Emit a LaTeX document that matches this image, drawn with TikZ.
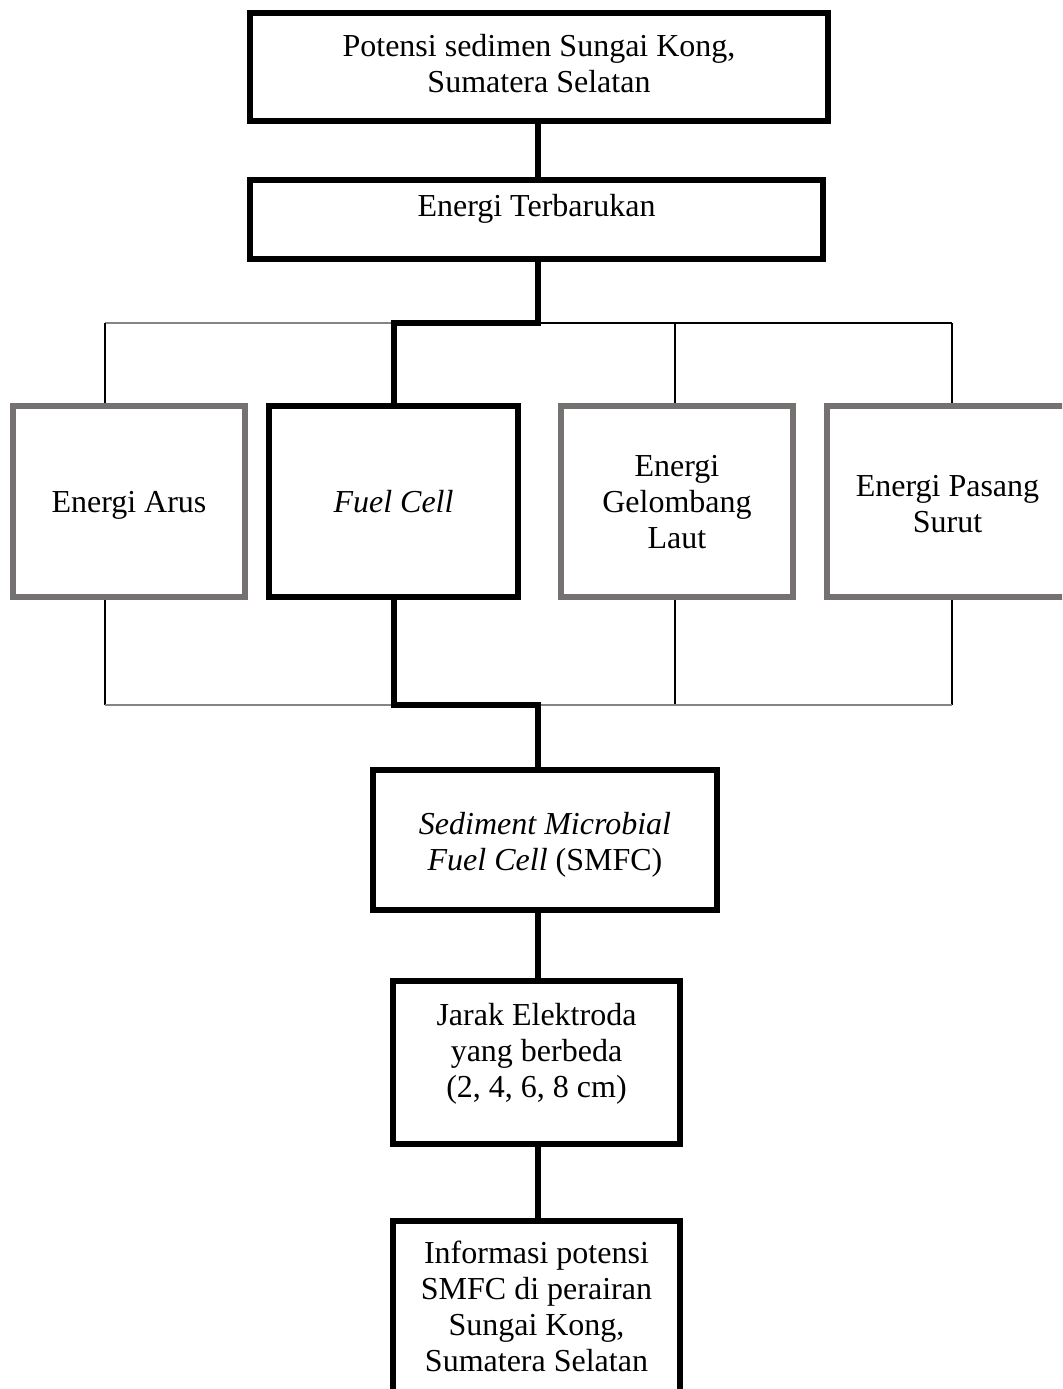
\documentclass[tikz,border=0pt]{standalone}
\usepackage{fontspec}
\setmainfont{Liberation Serif}
\usetikzlibrary{backgrounds}
\definecolor{boxgray}{RGB}{117,113,113}
\definecolor{linegray}{RGB}{135,132,132}
\begin{document}
\begin{tikzpicture}[x=0.5pt,y=-0.5pt,
  every node/.style={font=\fontsize{16}{18}\selectfont, align=center, inner sep=0pt},
  blackbox/.style={draw=black, line width=3pt, fill=white},
  graybox/.style={draw=boxgray, line width=3pt, fill=white},
  thickline/.style={draw=black, line width=3pt},
  thinblk/.style={draw=black, line width=1.1pt},
  thingray/.style={draw=linegray, line width=1.1pt}]
\useasboundingbox (0,0) rectangle (1062,1389);
\clip (0,0) rectangle (1062,1389);

% boxes
\node[blackbox, minimum width=289pt, minimum height=54pt] (top) at (539,67) {};
\node (toptxt) at (539,64) {Potensi sedimen Sungai Kong,\\Sumatera Selatan};
\node[blackbox, minimum width=286.5pt, minimum height=39.5pt] (renew) at (536.5,219.5) {};
\node (renewtxt) at (536.5,209) {Energi Terbarukan};

\node[graybox, minimum width=116pt, minimum height=95.5pt] (arus) at (129,501.5) {};
\node[text depth=0pt] (arustxt) at (129,502) {Energi Arus};
\node[blackbox, minimum width=124.5pt, minimum height=95.5pt] (fuel) at (393.5,501.5) {\textit{Fuel Cell}};
\node[graybox, minimum width=116pt, minimum height=95.5pt] (gelo) at (677,501.5) {};
\node (gelotxt) at (677,502.5) {Energi\\Gelombang\\Laut};
\node[graybox, minimum width=120.5pt, minimum height=95.5pt] (pasang) at (947.5,501.5) {};
\node (pasangtxt) at (947.5,504.5) {Energi Pasang\\Surut};

\node[blackbox, minimum width=172pt, minimum height=70pt] (smfc) at (545,840) {};
\node (smfctxt) at (545,845) {\textit{Sediment Microbial}\\\textit{Fuel Cell} (SMFC)};
\node[blackbox, minimum width=143.5pt, minimum height=81.5pt] (jarak) at (536.5,1062.5) {};
\node (jaraktxt) at (536.5,1054) {Jarak Elektroda\\yang berbeda\\ (2, 4, 6, 8 cm)};
\node[blackbox, minimum width=143.5pt, minimum height=89.5pt] (info) at (536.5,1310.5) {};
\node (infotxt) at (536.5,1306.5) {Informasi potensi\\SMFC di perairan\\Sungai Kong,\\Sumatera Selatan};

% junction coordinates
\coordinate (spine) at (538,0);
\coordinate (jU) at (538,323);
\coordinate (jL) at (538,705);
\coordinate (xA) at (105,323);
\coordinate (xG) at (675,323);
\coordinate (xP) at (952,323);
\coordinate (bA) at (105,705);
\coordinate (bG) at (675,705);
\coordinate (bP) at (952,705);

\begin{scope}[on background layer]
  % thin branch lines
  \draw[thingray] (xA) -- (jU);
  \draw[thinblk] (jU) -- (xP);
  \draw[thinblk] (xA) -- (xA |- arus.north);
  \draw[thinblk] (xG) -- (xG |- gelo.north);
  \draw[thinblk] (xP) -- (xP |- pasang.north);
  \draw[thinblk] (xA |- arus.south) -- (bA);
  \draw[thinblk] (xG |- gelo.south) -- (bG);
  \draw[thinblk] (xP |- pasang.south) -- (bP);
  \draw[thingray] (bA) -- (bP);
  % thick main path
  \draw[thickline] (spine |- top.south) -- (spine |- renew.north);
  \draw[thickline] (spine |- renew.south) -- (jU) -| (fuel.north);
  \draw[thickline] (fuel.south) |- (jL) -- (spine |- smfc.north);
  \draw[thickline] (spine |- smfc.south) -- (spine |- jarak.north);
  \draw[thickline] (spine |- jarak.south) -- (spine |- info.north);
\end{scope}
\end{tikzpicture}
\end{document}
